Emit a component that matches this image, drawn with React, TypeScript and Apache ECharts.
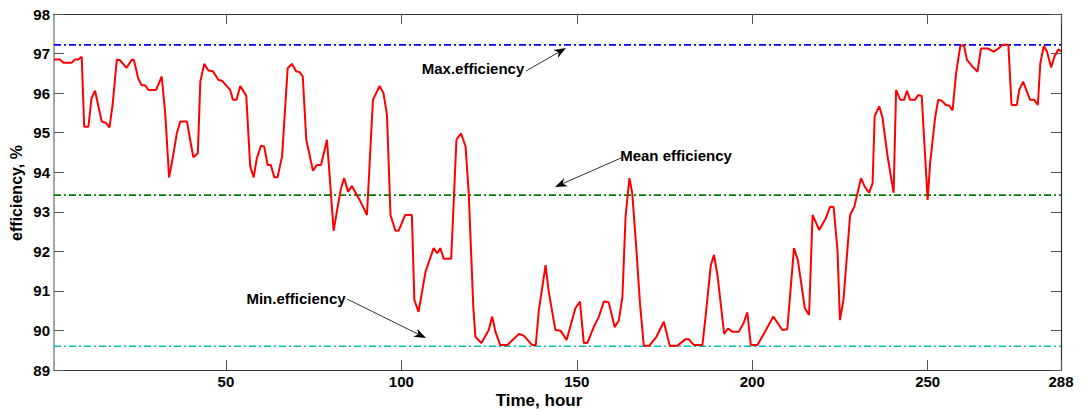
import React, { useEffect, useRef } from "react";
import * as echarts from "echarts";

const HOURS: number[] = [
  1, 2.7, 3.7, 6, 7, 7.9, 8.9, 9.6, 10.8, 11.7, 12.7, 14.6, 15.8, 16.8, 17.7, 18.9, 19.8, 21.7, 23.2, 23.8,
  25, 26, 27, 27.9, 30.1, 31.7, 32.7, 33.8, 34.9, 36, 37, 38.9, 39.8, 40.7, 42, 42.7, 43.8, 45, 46.3, 47.9,
  48.9, 51.2, 52, 53, 54.1, 55.8, 56.9, 57.9, 58.8, 60, 60.9, 61.9, 62.8, 63.8, 64.7, 66, 67.6, 68.8, 70, 71,
  71.9, 72.9, 74.8, 75.9, 77.1, 78.8, 79.5, 80.7, 81.7, 82.8, 83.7, 84.8, 85.9, 88.1, 90.2, 91.9, 93.8, 94.9, 95.9, 96.9,
  98.3, 99.2, 101.1, 103, 103.7, 104.9, 106.9, 109.2, 110.2, 111.1, 112.1, 114.2, 115.7, 117, 118.3, 119.2, 120.5, 121.1, 122.8, 124.9,
  125.9, 126.8, 128.2, 130.2, 133.5, 134.9, 137.3, 138.3, 139.2, 141.1, 142, 143.9, 145.4, 147.1, 149.6, 150.9, 152, 153, 154.9, 156.3,
  157.7, 159.1, 160.8, 162, 163, 163.9, 165, 165.8, 167, 168, 169.1, 170.6, 172.7, 174.8, 176.5, 178.6, 181, 181.9, 183.4, 185.8,
  186.7, 188.2, 189.1, 190.1, 192, 193.1, 194.3, 196.2, 197.5, 198.6, 199.6, 201.5, 203.4, 206, 208.6, 210, 211.9, 213, 215, 216.2,
  217.2, 219.1, 221, 222.2, 223.2, 224.3, 225, 226, 227.9, 229.1, 231, 232.1, 233.3, 234.3, 234.9, 236.2, 237.1, 238.6, 240.3, 241,
  242.2, 243.3, 244.1, 245, 246.4, 247.3, 248.3, 249, 250, 250.7, 252.1, 253, 254, 255.2, 256.2, 257.1, 258.1, 259.3, 260.3, 261.2,
  262.8, 264.2, 265.2, 267.1, 268.8, 269.9, 271.4, 273, 273.9, 275.4, 276.1, 277.2, 279.2, 280.4, 281.4, 282.1, 283.1, 284, 285.2, 286.1,
  287.3, 288,
];

const EFFICIENCY: number[] = [
  96.85, 96.85, 96.77, 96.77, 96.85, 96.85, 96.92, 95.15, 95.15, 95.87, 96.06, 95.28, 95.25, 95.13, 95.7, 96.85, 96.83, 96.64, 96.85, 96.83,
  96.37, 96.2, 96.2, 96.08, 96.08, 96.42, 95.49, 93.87, 94.39, 94.98, 95.28, 95.28, 94.82, 94.38, 94.48, 96.29, 96.74, 96.57, 96.55, 96.33,
  96.31, 96.08, 95.83, 95.83, 96.18, 95.93, 94.16, 93.87, 94.35, 94.67, 94.65, 94.18, 94.18, 93.87, 93.87, 94.4, 96.63, 96.74, 96.55, 96.53,
  96.42, 94.82, 94.04, 94.18, 94.18, 94.82, 93.97, 92.52, 93.05, 93.59, 93.85, 93.51, 93.65, 93.3, 92.92, 95.83, 96.18, 96.0, 95.45, 92.92,
  92.52, 92.52, 92.92, 92.92, 90.77, 90.47, 91.49, 92.08, 91.95, 92.08, 91.81, 91.81, 94.82, 94.98, 94.65, 93.47, 90.6, 89.84, 89.68, 90.01,
  90.35, 89.97, 89.63, 89.63, 89.91, 89.87, 89.63, 89.63, 90.52, 91.65, 90.98, 90.01, 89.99, 89.76, 90.56, 90.73, 89.68, 89.68, 90.1, 90.35,
  90.73, 90.71, 90.08, 90.26, 90.85, 92.88, 93.85, 93.47, 92.03, 90.69, 89.61, 89.61, 89.84, 90.22, 89.61, 89.61, 89.78, 89.78, 89.63, 89.63,
  90.35, 91.65, 91.91, 91.4, 89.91, 90.05, 89.97, 89.97, 90.18, 90.46, 89.63, 89.63, 89.93, 90.35, 90.01, 90.03, 92.08, 91.78, 90.56, 90.39,
  92.92, 92.54, 92.84, 93.13, 93.12, 92.03, 90.26, 90.77, 92.92, 93.13, 93.85, 93.63, 93.48, 93.72, 95.42, 95.67, 95.39, 94.39, 93.48, 96.08,
  95.83, 95.83, 96.06, 95.83, 95.83, 95.95, 95.93, 94.82, 93.3, 94.23, 95.36, 95.83, 95.81, 95.7, 95.68, 95.56, 96.5, 97.19, 97.22, 96.84,
  96.67, 96.54, 97.13, 97.13, 97.05, 97.11, 97.22, 97.22, 95.7, 95.7, 96.08, 96.29, 95.83, 95.83, 95.7, 96.75, 97.19, 97.05, 96.65, 96.92,
  97.11, 97.05,
];

const MAX_EFF = 97.22;
const MEAN_EFF = 93.42;
const MIN_EFF = 89.6;

const X_MIN = 1;
const X_MAX = 288;
const X_TICKS: number[] = [50, 100, 150, 200, 250, 288];
const Y_MIN = 89;
const Y_MAX = 98;

const FONT = "'Liberation Sans', Arial, sans-serif";
const DASH_DOT = [7, 3, 2, 3];

function arrow(x1: number, y1: number, x2: number, y2: number) {
  const dx = x2 - x1;
  const dy = y2 - y1;
  const len = Math.sqrt(dx * dx + dy * dy);
  const ux = dx / len;
  const uy = dy / len;
  const headL = 12;
  const headW = 4.5;
  const bx = x2 - ux * headL;
  const by = y2 - uy * headL;
  const nx = -uy;
  const ny = ux;
  const notchX = x2 - ux * headL * 0.7;
  const notchY = y2 - uy * headL * 0.7;
  return [
    {
      type: "line",
      shape: { x1, y1, x2: notchX, y2: notchY },
      style: { stroke: "#333", lineWidth: 1 },
      silent: true,
    },
    {
      type: "polygon",
      shape: {
        points: [
          [x2, y2],
          [bx + nx * headW, by + ny * headW],
          [notchX, notchY],
          [bx - nx * headW, by - ny * headW],
        ],
      },
      style: { fill: "#000" },
      silent: true,
    },
  ];
}

function refSeries(value: number, color: string) {
  return {
    type: "line",
    data: [
      [X_MIN, value],
      [X_MAX, value],
    ],
    symbol: "none",
    silent: true,
    lineStyle: { color, width: 1.6, type: DASH_DOT },
    z: 1,
  };
}

export default function App() {
  const ref = useRef<HTMLDivElement>(null);

  useEffect(() => {
    if (!ref.current) return;
    const chart = echarts.init(ref.current, undefined, { renderer: "svg" });
    const data = HOURS.map((h, i) => [h, EFFICIENCY[i]]);
    const axisLine = { show: true, lineStyle: { color: "#333", width: 1.2 } };
    const labelStyle = {
      color: "#000",
      fontWeight: "bold",
      fontSize: 15,
      fontFamily: FONT,
    };
    chart.setOption({
      animation: false,
      backgroundColor: "#fff",
      grid: { left: 54, top: 14, right: 26, bottom: 41, containLabel: false },
      xAxis: [
        {
          type: "value",
          min: X_MIN,
          max: X_MAX,
          position: "bottom",
          axisLine,
          axisTick: { show: true, inside: true, length: 10, customValues: X_TICKS, lineStyle: { color: "#555" } },
          axisLabel: { show: true, customValues: X_TICKS, margin: 4, ...labelStyle },
          splitLine: { show: false },
        },
        {
          type: "value",
          min: X_MIN,
          max: X_MAX,
          position: "top",
          axisLine,
          axisTick: { show: true, inside: true, length: 10, customValues: X_TICKS, lineStyle: { color: "#555" } },
          axisLabel: { show: false },
          splitLine: { show: false },
        },
      ],
      yAxis: [
        {
          type: "value",
          min: Y_MIN,
          max: Y_MAX,
          interval: 1,
          position: "left",
          axisLine: { show: true, lineStyle: { color: "#888", width: 1.5 } },
          axisTick: { show: true, inside: true, length: 10, lineStyle: { color: "#555" } },
          axisLabel: { margin: 4, ...labelStyle },
          splitLine: { show: false },
        },
        {
          type: "value",
          min: Y_MIN,
          max: Y_MAX,
          interval: 1,
          position: "right",
          axisLine,
          axisTick: { show: true, inside: true, length: 10, lineStyle: { color: "#555" } },
          axisLabel: { show: false },
          splitLine: { show: false },
        },
      ],
      series: [
        refSeries(MAX_EFF, "#0000ff"),
        refSeries(MEAN_EFF, "#008000"),
        refSeries(MIN_EFF, "#00c0c0"),
        {
          type: "line",
          name: "efficiency",
          data,
          symbol: "none",
          lineStyle: { color: "#ff0000", width: 2 },
          z: 3,
        },
      ],
      graphic: [
        {
          type: "text",
          x: 16,
          y: 193,
          rotation: Math.PI / 2,
          style: {
            text: "efficiency, %",
            font: `bold 16px ${FONT}`,
            fill: "#000",
            align: "center",
            verticalAlign: "middle",
          },
        },
        {
          type: "text",
          x: 539,
          y: 400,
          style: {
            text: "Time, hour",
            font: `bold 17px ${FONT}`,
            fill: "#000",
            align: "center",
            verticalAlign: "middle",
          },
        },
        {
          type: "text",
          x: 473,
          y: 68,
          style: { text: "Max.efficiency", font: `bold 15px ${FONT}`, fill: "#000", align: "center", verticalAlign: "middle" },
        },
        {
          type: "text",
          x: 676,
          y: 155,
          style: { text: "Mean efficiency", font: `bold 15px ${FONT}`, fill: "#000", align: "center", verticalAlign: "middle" },
        },
        {
          type: "text",
          x: 296,
          y: 298,
          style: { text: "Min.efficiency", font: `bold 15px ${FONT}`, fill: "#000", align: "center", verticalAlign: "middle" },
        },
        ...arrow(526, 71, 566, 48),
        ...arrow(621, 158, 555, 187),
        ...arrow(347, 299, 426, 338),
      ],
    });
    return () => chart.dispose();
  }, []);

  return (
    <div
      ref={ref}
      style={{ position: "fixed", left: 0, top: 0, width: 1087, height: 411, background: "#fff" }}
    />
  );
}
